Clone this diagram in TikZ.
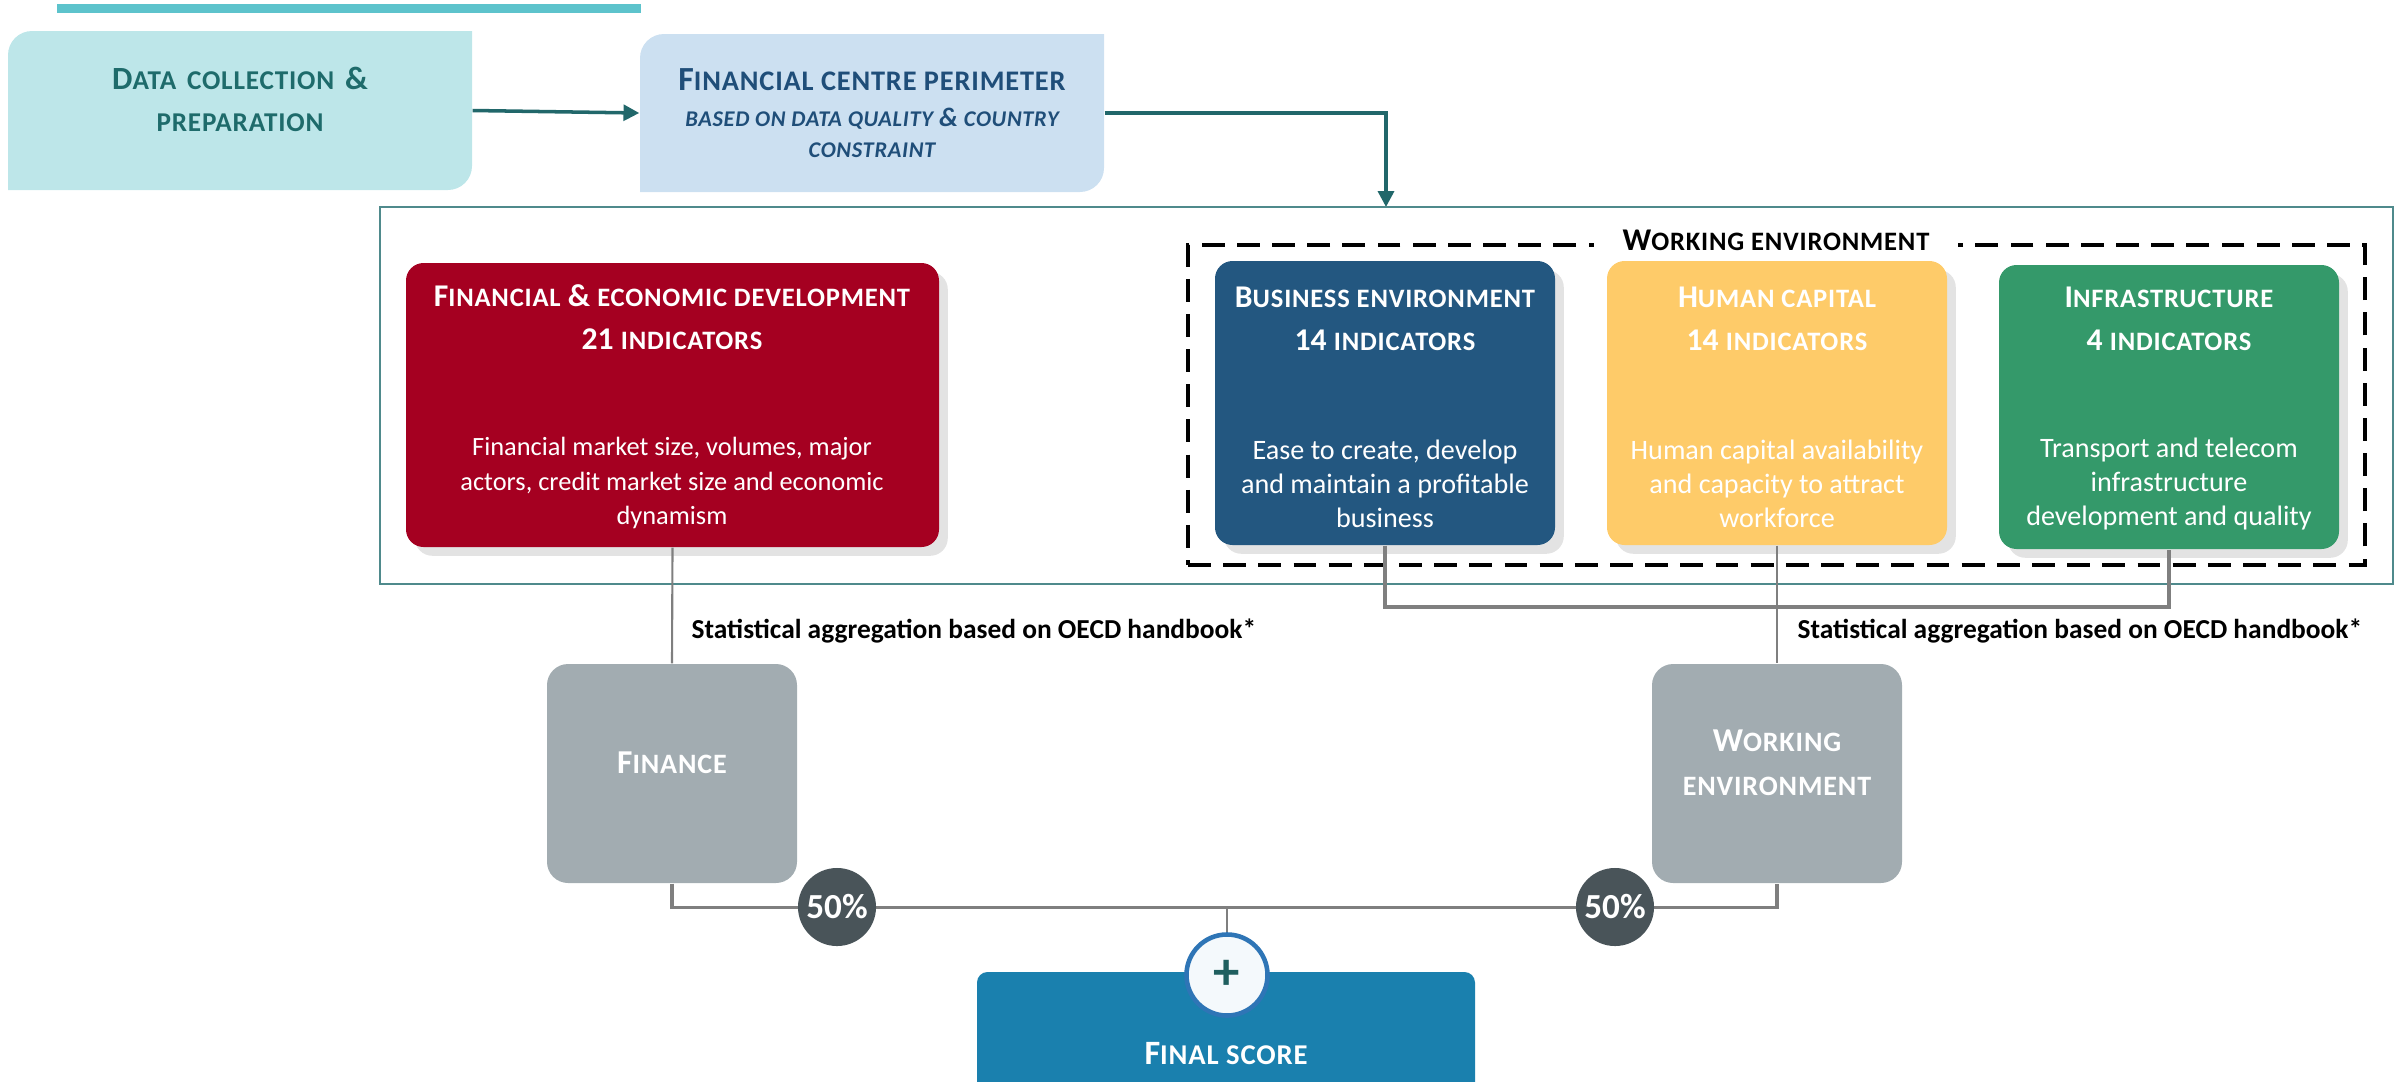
\documentclass[tikz,border=0pt]{standalone}
\usepackage{fontspec}
\setmainfont{Carlito}
\usetikzlibrary{arrows.meta,fit,shadows}

\definecolor{barteal}{HTML}{5DC3CC}
\definecolor{datafill}{HTML}{BDE6E9}
\definecolor{datatext}{HTML}{1E6B6B}
\definecolor{perimfill}{HTML}{CCE0F1}
\definecolor{perimtext}{HTML}{1F4E79}
\definecolor{linkteal}{HTML}{21676A}
\definecolor{framecol}{HTML}{4F8A8C}
\definecolor{findevred}{HTML}{A50021}
\definecolor{busblue}{HTML}{235780}
\definecolor{humyellow}{HTML}{FECB69}
\definecolor{infragreen}{HTML}{34996A}
\definecolor{pillargrey}{HTML}{A2ACB1}
\definecolor{linkgrey}{HTML}{7F7F7F}
\definecolor{pctgrey}{HTML}{495459}
\definecolor{scoreblue}{HTML}{1A80AE}
\definecolor{plusblue}{HTML}{2E75B6}
\definecolor{plusfill}{HTML}{F4F9FC}
\definecolor{plustext}{HTML}{1F5F5F}

\def\diagrect[#1](#2,#3)(#4,#5){\fill[#1] (#2,#5) -- (#2,#3+24) arc (180:270:24) -- (#4,#3) -- (#4,#5-24) arc (0:90:24) -- cycle;}
% Carlito has no small caps: smaller, slightly spaced capitals stand in for them
\makeatletter
\newcommand\lsc[1]{{\fontsize{\strip@pt\dimexpr0.84\dimexpr\f@size pt\relax\relax}{\f@baselineskip}\selectfont\addfontfeature{LetterSpace=3}\MakeUppercase{#1}}}
\makeatother

\begin{document}
\begin{tikzpicture}[x=0.01cm, y=-0.01cm,
		teallink/.style={draw=linkteal, line width=1pt, -{Triangle[length=4.5pt,width=4.5pt]}},
		greylink/.style={draw=linkgrey, line width=0.6pt},
		catbox/.style={inner sep=0pt, rounded corners=5pt, drop shadow={shadow xshift=2.5pt, shadow yshift=-2.5pt, opacity=0.22}},
		cattitle/.style={text=white, align=center, inner sep=0pt, font=\fontsize{9}{12.2}\selectfont\bfseries},
		catdesc/.style={text=white, align=center, inner sep=0pt, font=\fontsize{8}{9.7}\selectfont},
		pillar/.style={fill=pillargrey, inner sep=0pt, rounded corners=6pt, text=white, align=center, font=\fontsize{9.5}{12.5}\selectfont\bfseries},
		pct/.style={circle, fill=pctgrey, minimum size=0.78cm, inner sep=0pt, text=white, font=\fontsize{10}{12}\selectfont\bfseries},
		stattext/.style={anchor=west, inner sep=0pt, font=\fontsize{7.8}{9}\selectfont\bfseries}]
			%%%%% START %%%%%
			
			\useasboundingbox (0,0) rectangle (2402,1081);
			
			\fill[barteal] (57,4) rectangle (641,13);
			
			\diagrect[datafill](8,31)(472,190)
			\diagrect[perimfill](640,34)(1104,192)
			
			\node[fit={(8,31) (472,190)}, inner sep=0pt, align=center, text=datatext, font=\fontsize{9.2}{12}\selectfont\bfseries] (datacoll) {D\lsc{ata collection} \&\\\lsc{preparation}};
			\node[fit={(640,34) (1104,192)}, inner sep=0pt] (fincentre) {};
			\node[text=perimtext, inner sep=0pt, font=\fontsize{9.6}{12}\selectfont\bfseries] (fctitle) at (872,80) {F\lsc{inancial centre perimeter}};
			\node[text=perimtext, inner sep=0pt, align=center, font=\fontsize{7.6}{8.8}\selectfont\bfseries\itshape] (fcsub) at (872,133) {\lsc{based on data quality} \& \lsc{country}\\\lsc{constraint}};
			
			\draw[teallink] (datacoll.east) -- (fincentre.west);
			\coordinate (framein) at (1386,207);
			\draw[teallink] (fincentre.east) -| (framein);
			
			\node[fit={(380,207) (2393,584)}, draw=framecol, line width=0.7pt, inner sep=0pt] (pillarframe) {};
			\node[fit={(1188,245) (2365,565)}, draw=black, line width=0.9pt, dash pattern=on 6.5pt off 3.5pt, inner sep=0pt] (weframe) {};
			\node[fill=white, inner xsep=8pt, inner ysep=1pt, font=\fontsize{9}{11}\selectfont\bfseries] (wetitle) at (1776,240) {W\lsc{orking environment}};
			
			% the four indicator groups
			\node[catbox, fill=findevred, fit={(406,263) (939,547)}] (findev) {};
			\node[catbox, fill=busblue, fit={(1215,261) (1555,545)}] (busenv) {};
			\node[catbox, fill=humyellow, fit={(1607,261) (1947,545)}] (humcap) {};
			\node[catbox, fill=infragreen, fit={(1999,265) (2339,549)}] (infra) {};
			
			\node[cattitle] (findevtitle) at (672,317) {F\lsc{inancial} \& \lsc{economic development}\\21 \lsc{indicators}};
			\node[catdesc, font=\fontsize{7.5}{9.7}\selectfont] (findevdesc) at (672,483) {Financial market size, volumes, major\\actors, credit market size and economic\\dynamism};
			\node[cattitle] (busenvtitle) at (1385,319) {B\lsc{usiness environment}\\14 \lsc{indicators}};
			\node[catdesc] (busenvdesc) at (1385,484) {Ease to create, develop\\and maintain a profitable\\business};
			\node[cattitle] (humcaptitle) at (1777,319) {H\lsc{uman capital}\\14 \lsc{indicators}};
			\node[catdesc] (humcapdesc) at (1777,484) {Human capital availability\\and capacity to attract\\workforce};
			\node[cattitle] (infratitle) at (2169,319) {I\lsc{nfrastructure}\\4 \lsc{indicators}};
			\node[catdesc] (infradesc) at (2169,484) {Transport and telecom\\infrastructure\\development and quality};
			
			% pillars
			\node[pillar, fit={(547,664) (797,883)}] (finance) {F\lsc{inance}};
			\node[pillar, fit={(1652,664) (1902,883)}] (workenv) {W\lsc{orking}\\\lsc{environment}};
			
			\draw[greylink] (findev.south) -- (finance.north);
			\coordinate (wejoin) at (1777,607);
			\draw[greylink, line width=0.9pt] (busenv.south) |- (wejoin) -| (infra.south);
			\draw[greylink] (humcap.south) -- (workenv.north);
			\node[stattext] (statfin) at (691,631) {Statistical aggregation based on OECD handbook*};
			\node[stattext] (statwe) at (1797,631) {Statistical aggregation based on OECD handbook*};
			
			\draw[greylink, line width=0.9pt] (finance.south) -- ++(0,24) -| (workenv.south);
			\node[pct] (pctfin) at (837,907) {50\%};
			\node[pct] (pctwe) at (1615,907) {50\%};
			
			\node[fill=scoreblue, rounded corners=3pt, inner sep=0pt, fit={(977,972) (1475,1140)}] (final) {};
			\node[text=white, inner sep=0pt, font=\fontsize{9.7}{12}\selectfont\bfseries] (finaltext) at (1226,1054) {F\lsc{inal score}};
			\node[circle, fill=plusfill, draw=plusblue, line width=1.3pt, minimum size=0.81cm, inner sep=0pt, text=plustext, font=\fontsize{15}{15}\selectfont\bfseries] (plus) at (1227,975) {+};
			\coordinate (sumjoin) at (1227,907);
			\draw[greylink] (sumjoin) -- (plus.north);
			
			%%%%% END %%%%%
\end{tikzpicture}
\end{document}
